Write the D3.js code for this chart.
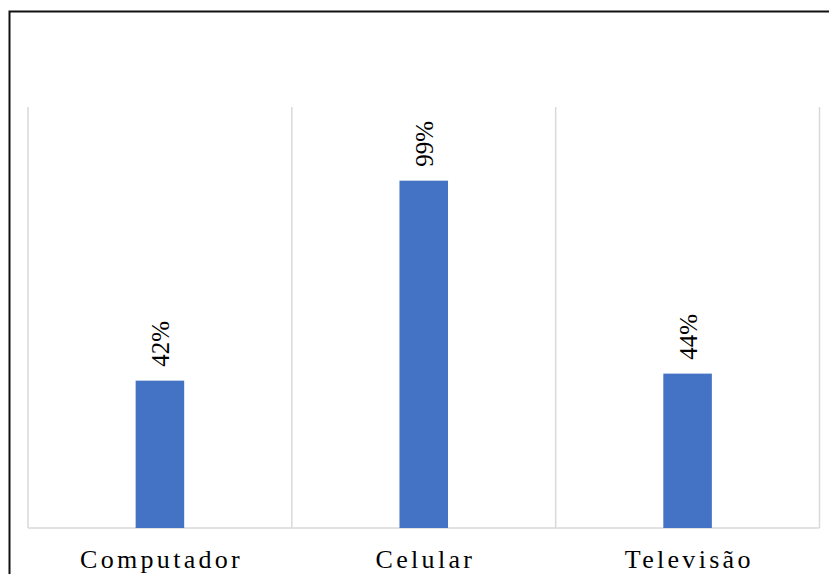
<!DOCTYPE html>
<html>
<head>
<meta charset="utf-8">
<script src="https://cdn.jsdelivr.net/npm/d3@7"></script>
<style>
  html, body { margin: 0; padding: 0; background: #fff; }
  svg { display: block; }
</style>
</head>
<body>
<svg id="chart" width="829" height="574"></svg>
<script>
const categories = ["Computador", "Celular", "Televisão"];
const values = [42, 99, 44];
const valueLabels = ["42%", "99%", "44%"];

const W = 829, H = 574;
const svg = d3.select("#chart");
const margin = { left: 28, right: 9.5, top: 107, bottom: 46 };
const plotW = W - margin.left - margin.right;
const plotH = H - margin.top - margin.bottom;

// outer border
svg.append("rect")
  .attr("x", 9.5).attr("y", 11.5)
  .attr("width", 900).attr("height", 700)
  .attr("fill", "none").attr("stroke", "#111").attr("stroke-width", 2);

const g = svg.append("g").attr("transform", `translate(${margin.left},${margin.top})`);

const x = d3.scaleBand().domain(categories).range([0, plotW]).paddingInner(0).paddingOuter(0);
const y = d3.scaleLinear().domain([0, 120]).range([plotH, 0]);

// vertical separators
const bounds = categories.map(c => x(c)).concat([plotW]);
g.selectAll("line.sep").data(bounds).enter().append("line")
  .attr("class", "sep")
  .attr("x1", d => d).attr("x2", d => d)
  .attr("y1", 0).attr("y2", plotH)
  .attr("stroke", "#d9d9d9").attr("stroke-width", 1.5);

// baseline
g.append("line")
  .attr("x1", 0).attr("x2", plotW)
  .attr("y1", y(0)).attr("y2", y(0))
  .attr("stroke", "#d9d9d9").attr("stroke-width", 1.5);

const barW = x.bandwidth() * 0.184;
g.selectAll("rect.bar").data(values).enter().append("rect")
  .attr("class", "bar")
  .attr("x", (d, i) => x(categories[i]) + x.bandwidth() / 2 - barW / 2)
  .attr("y", d => y(d))
  .attr("width", barW)
  .attr("height", d => y(0) - y(d))
  .attr("fill", "#4472c4");

// value labels (rotated)
g.selectAll("text.val").data(values).enter().append("text")
  .attr("class", "val")
  .attr("transform", (d, i) => `translate(${x(categories[i]) + x.bandwidth() / 2 + 9},${y(d) - 14}) rotate(-90)`)
  .attr("text-anchor", "start")
  .attr("font-family", "'Liberation Serif', 'Times New Roman', serif")
  .attr("font-size", 25)
  .attr("fill", "#000")
  .text((d, i) => valueLabels[i]);

// category labels
const ls = 3.3;
const xAxis = d3.axisBottom(x).tickSize(0).tickPadding(0);
const ax = g.append("g").attr("transform", `translate(0,${plotH})`).call(xAxis);
ax.select(".domain").remove();
ax.selectAll("text")
  .attr("y", 0)
  .attr("dy", 0)
  .attr("transform", `translate(${ls / 2},40)`)
  .attr("font-family", "'Liberation Serif', 'Times New Roman', serif")
  .attr("font-size", 26)
  .attr("letter-spacing", ls)
  .attr("fill", "#000");
</script>
</body>
</html>
